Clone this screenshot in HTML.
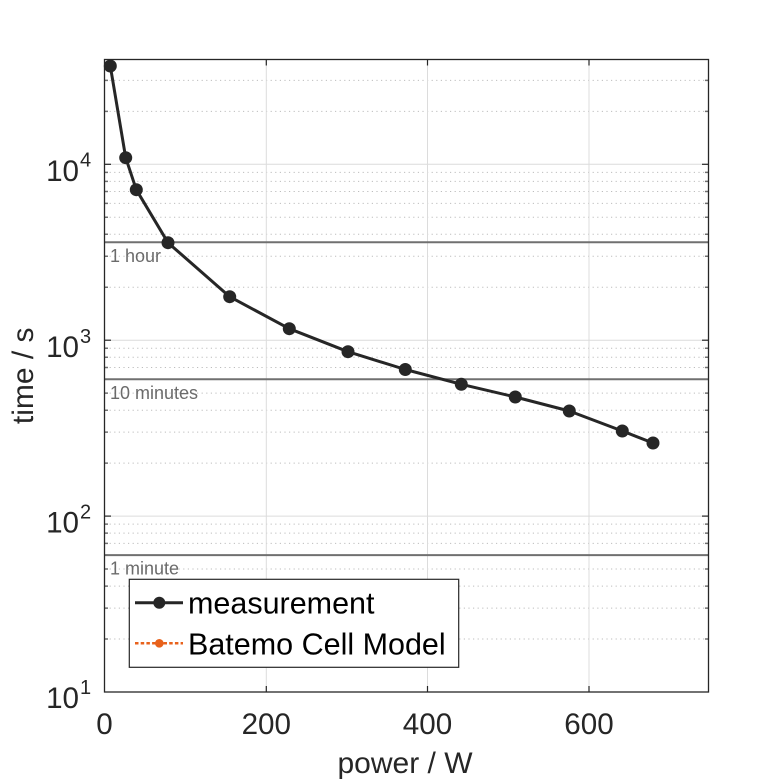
<!DOCTYPE html>
<html><head><meta charset="utf-8"><style>
html,body{margin:0;padding:0;background:#fff;}
svg{display:block;font-family:"Liberation Sans",Arial,sans-serif;}
</style></head><body>
<svg width="781" height="781" viewBox="0 0 781 781" xmlns="http://www.w3.org/2000/svg">
<rect width="781" height="781" fill="#fff"/>
<rect x="104.5" y="59.5" width="604" height="632.5" fill="#fff"/>
<!-- minor grid -->
<g stroke="#bdbdbd" stroke-width="1" stroke-dasharray="1.2 3.4">
<line x1="105" x2="708" y1="639.05" y2="639.05"/>
<line x1="105" x2="708" y1="608.07" y2="608.07"/>
<line x1="105" x2="708" y1="586.1" y2="586.1"/>
<line x1="105" x2="708" y1="569.05" y2="569.05"/>
<line x1="105" x2="708" y1="543.35" y2="543.35"/>
<line x1="105" x2="708" y1="533.15" y2="533.15"/>
<line x1="105" x2="708" y1="524.15" y2="524.15"/>
<line x1="105" x2="708" y1="463.15" y2="463.15"/>
<line x1="105" x2="708" y1="432.17" y2="432.17"/>
<line x1="105" x2="708" y1="410.2" y2="410.2"/>
<line x1="105" x2="708" y1="393.15" y2="393.15"/>
<line x1="105" x2="708" y1="367.45" y2="367.45"/>
<line x1="105" x2="708" y1="357.25" y2="357.25"/>
<line x1="105" x2="708" y1="348.25" y2="348.25"/>
<line x1="105" x2="708" y1="287.25" y2="287.25"/>
<line x1="105" x2="708" y1="256.27" y2="256.27"/>
<line x1="105" x2="708" y1="234.3" y2="234.3"/>
<line x1="105" x2="708" y1="217.25" y2="217.25"/>
<line x1="105" x2="708" y1="203.33" y2="203.33"/>
<line x1="105" x2="708" y1="191.55" y2="191.55"/>
<line x1="105" x2="708" y1="181.35" y2="181.35"/>
<line x1="105" x2="708" y1="172.35" y2="172.35"/>
<line x1="105" x2="708" y1="111.35" y2="111.35"/>
<line x1="105" x2="708" y1="80.37" y2="80.37"/>
</g>
<!-- major grid -->
<g stroke="#dcdcdc" stroke-width="1">
<line x1="266.3" x2="266.3" y1="60" y2="692"/>
<line x1="427.5" x2="427.5" y1="60" y2="692"/>
<line x1="589" x2="589" y1="60" y2="692"/>
<line x1="105" x2="708" y1="516.1" y2="516.1"/>
<line x1="105" x2="708" y1="340.2" y2="340.2"/>
<line x1="105" x2="708" y1="164.3" y2="164.3"/>
</g>
<!-- reference lines -->
<g stroke="#707070" stroke-width="2">
<line x1="105" x2="708" y1="242.3" y2="242.3"/>
<line x1="105" x2="708" y1="379.2" y2="379.2"/>
<line x1="105" x2="708" y1="555.1" y2="555.1"/>
</g>
<g fill="#6b6b6b" font-size="18">
<text x="110" y="262">1 hour</text>
<text x="110" y="399">10 minutes</text>
<text x="110" y="574.5">1 minute</text>
</g>
<!-- ticks -->
<g stroke="#262626" stroke-width="1.2">
<line x1="104.5" x2="111" y1="516.1" y2="516.1"/>
<line x1="104.5" x2="111" y1="340.2" y2="340.2"/>
<line x1="104.5" x2="111" y1="164.3" y2="164.3"/>
<line x1="702" x2="708.5" y1="516.1" y2="516.1"/>
<line x1="702" x2="708.5" y1="340.2" y2="340.2"/>
<line x1="702" x2="708.5" y1="164.3" y2="164.3"/>
<line x1="266.3" x2="266.3" y1="692" y2="686"/>
<line x1="427.5" x2="427.5" y1="692" y2="686"/>
<line x1="589" x2="589" y1="692" y2="686"/>
<line x1="266.3" x2="266.3" y1="59.5" y2="65.5"/>
<line x1="427.5" x2="427.5" y1="59.5" y2="65.5"/>
<line x1="589" x2="589" y1="59.5" y2="65.5"/>
</g>
<g stroke="#707070" stroke-width="1.5">
<path d="M104.5 639.05h3.5M104.5 608.07h3.5M104.5 586.1h3.5M104.5 569.05h3.5M104.5 555.13h3.5M104.5 543.35h3.5M104.5 533.15h3.5M104.5 524.15h3.5M104.5 463.15h3.5M104.5 432.17h3.5M104.5 410.2h3.5M104.5 393.15h3.5M104.5 379.23h3.5M104.5 367.45h3.5M104.5 357.25h3.5M104.5 348.25h3.5M104.5 287.25h3.5M104.5 256.27h3.5M104.5 234.3h3.5M104.5 217.25h3.5M104.5 203.33h3.5M104.5 191.55h3.5M104.5 181.35h3.5M104.5 172.35h3.5M104.5 111.35h3.5M104.5 80.37h3.5"/>
<path d="M708.5 639.05h-3.5M708.5 608.07h-3.5M708.5 586.1h-3.5M708.5 569.05h-3.5M708.5 555.13h-3.5M708.5 543.35h-3.5M708.5 533.15h-3.5M708.5 524.15h-3.5M708.5 463.15h-3.5M708.5 432.17h-3.5M708.5 410.2h-3.5M708.5 393.15h-3.5M708.5 379.23h-3.5M708.5 367.45h-3.5M708.5 357.25h-3.5M708.5 348.25h-3.5M708.5 287.25h-3.5M708.5 256.27h-3.5M708.5 234.3h-3.5M708.5 217.25h-3.5M708.5 203.33h-3.5M708.5 191.55h-3.5M708.5 181.35h-3.5M708.5 172.35h-3.5M708.5 111.35h-3.5M708.5 80.37h-3.5"/>
</g>
<!-- data -->
<polyline fill="none" stroke="#262626" stroke-width="3" stroke-linejoin="round" points="110.3,66 125.7,157.7 136.3,189.7 168,242.7 229.7,296.7 289.3,328.7 348,351.7 405.3,369.5 461.3,384.3 515.3,397 569.3,411 622.3,431 653,443"/>
<g fill="#262626">
<circle cx="110.3" cy="66" r="6.5"/>
<circle cx="125.7" cy="157.7" r="6.5"/>
<circle cx="136.3" cy="189.7" r="6.5"/>
<circle cx="168" cy="242.7" r="6.5"/>
<circle cx="229.7" cy="296.7" r="6.5"/>
<circle cx="289.3" cy="328.7" r="6.5"/>
<circle cx="348" cy="351.7" r="6.5"/>
<circle cx="405.3" cy="369.5" r="6.5"/>
<circle cx="461.3" cy="384.3" r="6.5"/>
<circle cx="515.3" cy="397" r="6.5"/>
<circle cx="569.3" cy="411" r="6.5"/>
<circle cx="622.3" cy="431" r="6.5"/>
<circle cx="653" cy="443" r="6.5"/>
</g>
<!-- frame -->
<rect x="104.5" y="59.5" width="604" height="632.5" fill="none" stroke="#262626" stroke-width="1.3"/>
<!-- legend -->
<rect x="129.3" y="579.3" width="329.4" height="88" fill="#fff" stroke="#262626" stroke-width="1.2"/>
<line x1="135" x2="183" y1="602.7" y2="602.7" stroke="#262626" stroke-width="3"/>
<circle cx="159.3" cy="602.7" r="6" fill="#262626"/>
<line x1="135" x2="183" y1="643.3" y2="643.3" stroke="#E8621C" stroke-width="2.5" stroke-dasharray="3.5 2.2"/>
<circle cx="159.3" cy="643.3" r="4.3" fill="#E8621C"/>
<g fill="#000" font-size="30.5">
<text x="188" y="613.7">measurement</text>
<text x="188" y="654.5">Batemo Cell Model</text>
</g>
<!-- tick labels -->
<g fill="#262626" font-size="29.6" text-anchor="middle">
<text x="104.5" y="734">0</text>
<text x="266.3" y="734">200</text>
<text x="427.5" y="734">400</text>
<text x="589" y="734">600</text>
</g>
<g fill="#262626">
<text x="79" y="708" font-size="29.6" text-anchor="end">10</text><text x="80" y="694" font-size="20">1</text>
<text x="79" y="532.5" font-size="29.6" text-anchor="end">10</text><text x="80" y="518.5" font-size="20">2</text>
<text x="79" y="356.8" font-size="29.6" text-anchor="end">10</text><text x="80" y="342.8" font-size="20">3</text>
<text x="79" y="181" font-size="29.6" text-anchor="end">10</text><text x="80" y="166.5" font-size="20">4</text>
</g>
<text x="405" y="773" font-size="30" fill="#262626" text-anchor="middle">power / W</text>
<text transform="translate(33,375.8) rotate(-90)" font-size="30" fill="#262626" text-anchor="middle">time / s</text>
</svg>
</body></html>
